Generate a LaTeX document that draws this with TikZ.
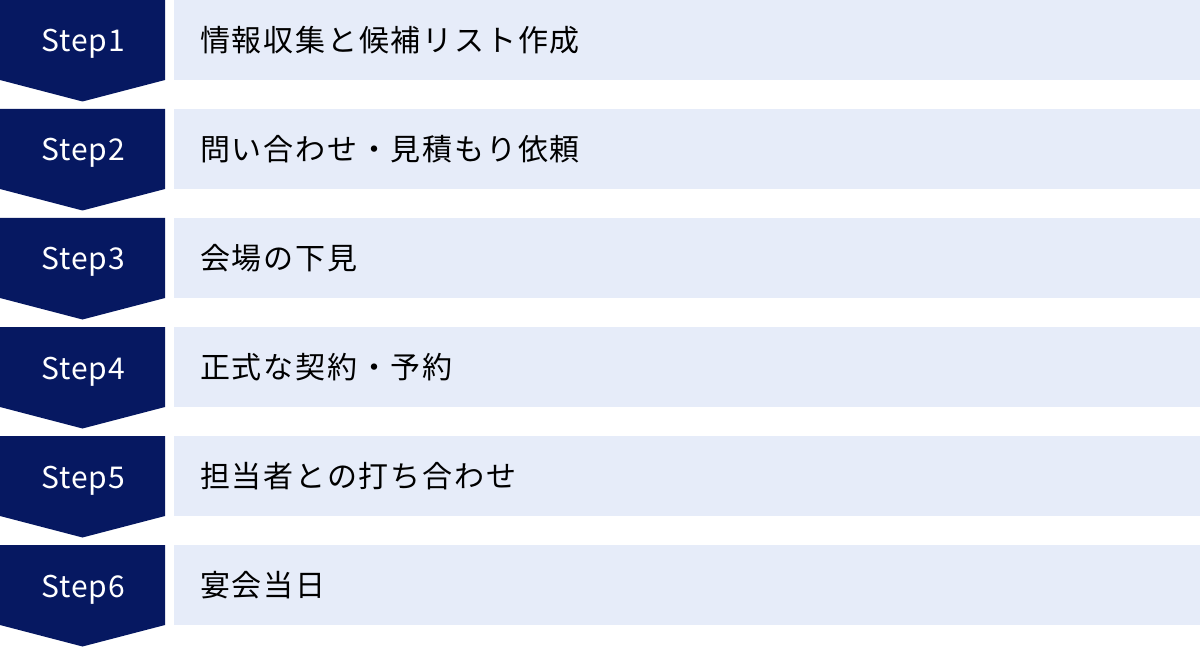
\documentclass[tikz,border=0pt]{standalone}
\usepackage{fontspec}
\setmainfont{Noto Sans CJK JP}
\newfontfamily\steplabelfont[LetterSpace=3]{Noto Sans CJK JP}
\newfontfamily\steptextfont[LetterSpace=6]{Noto Sans CJK JP}
\usepackage{xcolor}
\usepackage{tikz}

\definecolor{navy}{HTML}{061861}
\definecolor{paleblue}{HTML}{E6ECF9}

\tikzset{
  stepshape/.style={fill=navy, draw=none},
  stepbar/.style={fill=paleblue, draw=none},
  steplabel/.style={anchor=base, inner sep=0pt, text=white, font=\steplabelfont\fontsize{30}{36}\selectfont},
  steptext/.style={anchor=base west, inner sep=0pt, text=black, font=\steptextfont\fontsize{30}{36}\selectfont}
}

\begin{document}
\begin{tikzpicture}[x=1pt,y=-1pt]

\useasboundingbox (0,0) rectangle (1200,647);

%% first row
\fill[stepshape] (0,0) -- (165,0) -- (165,80) -- (82.5,101.5) -- (0,80) -- cycle;
\fill[stepbar] (174,0) rectangle (1200,80);
\node[steplabel] (s1) at (83,52) {Step1};
\node[steptext] (t1) at (200,51.5) {情報収集と候補リスト作成};

%% second row
\fill[stepshape] (0,109) -- (165,109) -- (165,189) -- (82.5,210.5) -- (0,189) -- cycle;
\fill[stepbar] (174,109) rectangle (1200,189);
\node[steplabel] (s2) at (83,161) {Step2};
\node[steptext] (t2) at (200,160.5) {問い合わせ・見積もり依頼};

%% third row
\fill[stepshape] (0,218) -- (165,218) -- (165,298) -- (82.5,319.5) -- (0,298) -- cycle;
\fill[stepbar] (174,218) rectangle (1200,298);
\node[steplabel] (s3) at (83,270) {Step3};
\node[steptext] (t3) at (200,269.5) {会場の下見};

%% fourth row
\fill[stepshape] (0,327) -- (165,327) -- (165,407) -- (82.5,428.5) -- (0,407) -- cycle;
\fill[stepbar] (174,327) rectangle (1200,407);
\node[steplabel] (s4) at (83,379) {Step4};
\node[steptext] (t4) at (200,378.5) {正式な契約・予約};

%% fifth row
\fill[stepshape] (0,436) -- (165,436) -- (165,516) -- (82.5,537.5) -- (0,516) -- cycle;
\fill[stepbar] (174,436) rectangle (1200,516);
\node[steplabel] (s5) at (83,488) {Step5};
\node[steptext] (t5) at (200,487.5) {担当者との打ち合わせ};

%% sixth row
\fill[stepshape] (0,545) -- (165,545) -- (165,625) -- (82.5,646.5) -- (0,625) -- cycle;
\fill[stepbar] (174,545) rectangle (1200,625);
\node[steplabel] (s6) at (83,597) {Step6};
\node[steptext] (t6) at (200,596.5) {宴会当日};

\end{tikzpicture}
\end{document}
